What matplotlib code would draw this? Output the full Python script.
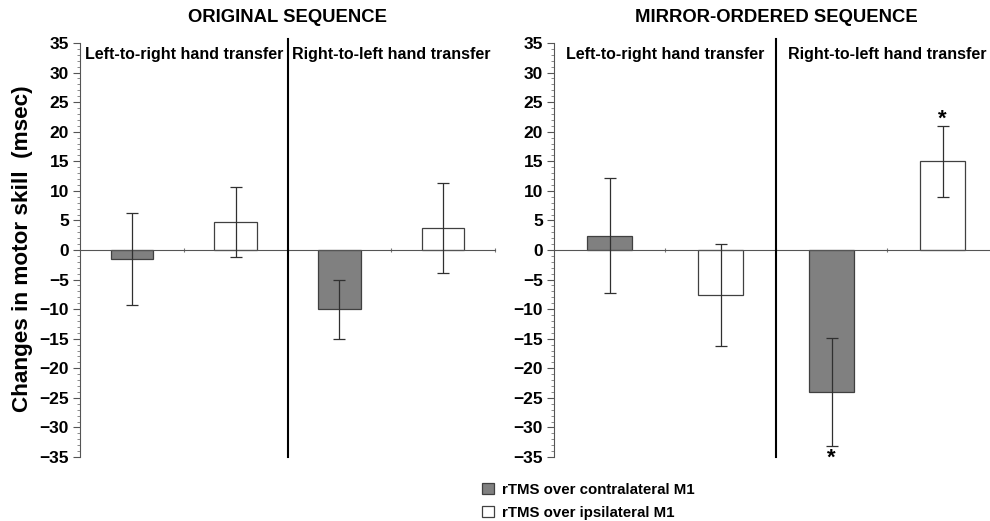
import numpy as np
import matplotlib.pyplot as plt
from matplotlib.patches import Patch

plt.rcParams['font.family'] = ['Liberation Sans', 'DejaVu Sans']
plt.rcParams['font.weight'] = 'bold'

conditions = ['Left-to-right hand transfer', 'Right-to-left hand transfer']
panels = ['ORIGINAL SEQUENCE', 'MIRROR-ORDERED SEQUENCE']
series = ['rTMS over contralateral M1', 'rTMS over ipsilateral M1']

# original sequence: [L->R, R->L]
orig_contra = [-1.5, -10.0]
orig_contra_err = [7.8, 5.0]
orig_ipsi = [4.8, 3.7]
orig_ipsi_err = [5.9, 7.6]

# mirror-ordered sequence
mirr_contra = [2.4, -24.0]
mirr_contra_err = [9.7, 9.2]
mirr_ipsi = [-7.6, 15.0]
mirr_ipsi_err = [8.6, 6.0]

# significance marks: (condition index, series index)
mirr_stars = [(1, 0), (1, 1)]

face_colors = ['#808080', 'white']
edge = '#404040'

fig = plt.figure(figsize=(9.9, 5.21), dpi=100)
ax1 = fig.add_axes([80 / 990, 1 - 457 / 521, 415 / 990, 414 / 521])
ax2 = fig.add_axes([554 / 990, 1 - 457 / 521, 444 / 990, 414 / 521])

data = [
    (orig_contra, orig_contra_err, orig_ipsi, orig_ipsi_err, []),
    (mirr_contra, mirr_contra_err, mirr_ipsi, mirr_ipsi_err, mirr_stars),
]

for ax, title, (c, ce, ip, ie, stars) in zip([ax1, ax2], panels, data):
    vals, errs = [], []
    for k in range(2):
        vals += [c[k], ip[k]]
        errs += [ce[k], ie[k]]
    x = np.arange(4) + 0.5
    ax.bar(x, vals, width=0.41, color=[face_colors[0], face_colors[1]] * 2,
           edgecolor=edge, linewidth=0.9, zorder=2)
    ax.errorbar(x, vals, yerr=errs, fmt='none', ecolor='#303030',
                elinewidth=0.9, capsize=4, capthick=0.9, zorder=3)
    ax.set_xlim(0, 4)
    ax.set_ylim(-35, 35)
    ax.set_yticks(np.arange(-35, 36, 5))
    ax.set_yticks(np.arange(-35, 36, 1), minor=True)
    ax.set_xticks([1, 2, 3, 4])
    ax.set_xticklabels([])
    for s in ['top', 'right']:
        ax.spines[s].set_visible(False)
    ax.spines['bottom'].set_position(('data', 0))
    ax.spines['bottom'].set_color('#555555')
    ax.spines['left'].set_color('#555555')
    ax.tick_params(axis='y', which='major', length=5, direction='out',
                   color='#555555', labelsize=12.5, pad=3)
    ax.tick_params(axis='y', which='minor', length=2, direction='out',
                   color='#777777')
    ax.tick_params(axis='x', which='major', length=3, direction='inout',
                   color='#777777')
    for lbl in ax.get_yticklabels():
        lbl.set_fontweight('bold')
    ax.plot([2, 2], [-35, 35.6], color='black', linewidth=1.5,
            clip_on=False, zorder=4)
    ax.text(1, 33.0, conditions[0], ha='center', va='center', fontsize=11.5,
            fontweight='bold')
    ax.text(3, 33.0, conditions[1], ha='center', va='center', fontsize=11.5,
            fontweight='bold')
    ax.text(2, 39.3, title, ha='center', va='center', fontsize=13.3,
            fontweight='bold', clip_on=False)
    for k, sidx in stars:
        xi = 2 * k + sidx + 0.5
        v = vals[2 * k + sidx]
        e = errs[2 * k + sidx]
        if v >= 0:
            ax.text(xi, v + e - 0.6, '*', ha='center', va='bottom',
                    fontsize=16, fontweight='bold')
        else:
            ax.text(xi, v - e - 0.2, '*', ha='center', va='top',
                    fontsize=16, fontweight='bold')

fig.text(23 / 990, 1 - 249 / 521, 'Changes in motor skill  (msec)',
         rotation=90, ha='center', va='center', fontsize=16.2,
         fontweight='bold')

handles = [Patch(facecolor=face_colors[i], edgecolor=edge, linewidth=0.9,
                 label=series[i]) for i in range(2)]
fig.legend(handles=handles, loc='upper left',
           bbox_to_anchor=(474 / 990, 1 - 475 / 521), frameon=False,
           prop={'size': 10.8, 'weight': 'bold'}, handlelength=0.8,
           handleheight=0.8, handletextpad=0.6, labelspacing=0.6,
           borderpad=0)

fig.savefig('out.png', dpi=100)
